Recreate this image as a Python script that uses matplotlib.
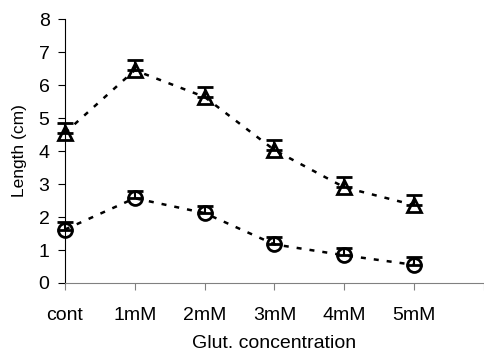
import numpy as np
import matplotlib.pyplot as plt

plt.rcParams['font.family'] = ['Liberation Sans', 'DejaVu Sans']

categories = ['cont', '1mM', '2mM', '3mM', '4mM', '5mM']
tri_vals = [4.55, 6.45, 5.64, 4.03, 2.9, 2.36]
tri_err = [0.3, 0.3, 0.3, 0.3, 0.3, 0.3]
circ_vals = [1.62, 2.57, 2.12, 1.17, 0.84, 0.55]
circ_err = [0.24, 0.22, 0.21, 0.22, 0.22, 0.23]

fig = plt.figure(figsize=(4.84, 3.54), dpi=100)
ax = fig.add_axes([0.134, 0.2006, 0.866, 0.7454])

x = np.arange(len(categories))

for vals, errs, mk in [(tri_vals, tri_err, '^'), (circ_vals, circ_err, 'o')]:
    ax.plot(x, vals, color='black', linestyle=(0, (2, 3.2)), linewidth=1.8,
            zorder=2, clip_on=False)
    eb = ax.errorbar(x, vals, yerr=[np.zeros(len(errs)), errs], fmt='none',
                     ecolor='black', elinewidth=1.5, capsize=6, capthick=2, zorder=3)
    for art in eb.lines[1] + eb.lines[2]:
        art.set_clip_on(False)
    ax.plot(x, vals, linestyle='none', marker=mk, markersize=10,
            markerfacecolor='none', markeredgecolor='black', markeredgewidth=2,
            zorder=4, clip_on=False)

ax.set_xlim(0, 6)
ax.set_ylim(0, 8)
ax.set_xticks(list(x) + [6])
ax.set_xticklabels(categories + [''])
ax.set_yticks(range(0, 9))

ax.spines['top'].set_visible(False)
ax.spines['right'].set_visible(False)
ax.spines['bottom'].set_color('#808080')
ax.spines['left'].set_color('black')
ax.tick_params(axis='x', direction='out', length=5, color='#808080', pad=12, labelsize=14)
ax.tick_params(axis='y', direction='out', length=5, color='black', pad=6, labelsize=14)

ax.set_xlabel('Glut. concentration', fontsize=14, labelpad=8)
ax.set_ylabel('Length (cm)', fontsize=12.5, labelpad=8)

fig.savefig('out.png', dpi=100)
